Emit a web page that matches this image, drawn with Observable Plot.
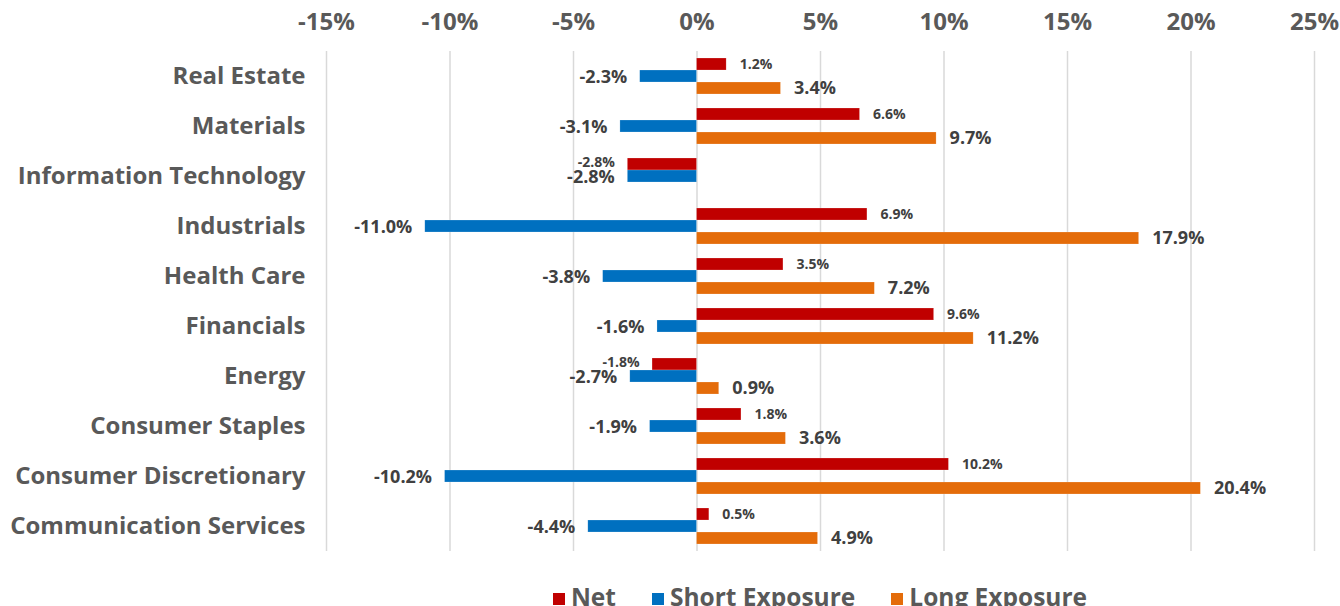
<!DOCTYPE html>
<html><head><meta charset="utf-8">
<script src="https://cdn.jsdelivr.net/npm/d3@7"></script>
<script src="https://cdn.jsdelivr.net/npm/@observablehq/plot@0.6"></script>
<style>
html,body{margin:0;padding:0;background:#fff;font-family:"Open Sans",sans-serif;overflow:hidden;}
#legend{display:flex;justify-content:center;align-items:baseline;gap:36px;margin-left:326px;width:988px;margin-top:22px;font-size:24.5px;font-weight:700;color:#595959;line-height:30px;}
#legend .item{display:flex;align-items:center;}
#legend .sw{width:12px;height:12px;margin-right:6px;margin-top:3px;}
</style></head><body>
<div id="chart"></div>
<div id="legend"></div>
<script>
const categories = ["Real Estate","Materials","Information Technology","Industrials","Health Care","Financials","Energy","Consumer Staples","Consumer Discretionary","Communication Services"];
const seriesNames = ["Net","Short Exposure","Long Exposure"];
const netValues   = [1.2, 6.6, -2.8, 6.9, 3.5, 9.6, -1.8, 1.8, 10.2, 0.5];
const shortValues = [-2.3, -3.1, -2.8, -11.0, -3.8, -1.6, -2.7, -1.9, -10.2, -4.4];
const longValues  = [3.4, 9.7, null, 17.9, 7.2, 11.2, 0.9, 3.6, 20.4, 4.9];
const xTicks = [-15, -10, -5, 0, 5, 10, 15, 20, 25];
const seriesColors = ["#C00000", "#0070C0", "#E46C0A"];
const labelSizes = [14, 18, 18];
const labelShift = [-1, 1, 0];

const seriesValues = [netValues, shortValues, longValues];
const rows = [];
categories.forEach((c, i) => {
  seriesNames.forEach((s, j) => {
    const v = seriesValues[j][i];
    if (v != null) rows.push({category: c, series: s, value: v, size: labelSizes[j], shift: labelShift[j]});
  });
});
const fmt = d => d.toFixed(1) + "%";

const chart = Plot.plot({
  width: 1340, height: 560,
  marginLeft: 326, marginRight: 26, marginTop: 49, marginBottom: 8,
  style: {fontFamily: "'Open Sans', sans-serif", background: "#fff"},
  x: {domain: [-15, 25], axis: null},
  y: {domain: seriesNames, paddingInner: 0, paddingOuter: 0.5, axis: null},
  fy: {domain: categories, padding: 0, axis: null},
  color: {domain: seriesNames, range: seriesColors},
  marks: [
    Plot.gridX(xTicks, {stroke: "#d9d9d9", strokeOpacity: 1, strokeWidth: 1.5}),
    Plot.axisX({ticks: xTicks, anchor: "top", label: null, tickSize: 0, tickPadding: 22, tickFormat: d => d + "%", fontSize: 24, fontWeight: 700, fill: "#595959"}),
    Plot.axisFy({anchor: "left", label: null, tickSize: 0, tickPadding: 21, fontSize: 24, fontWeight: 700, fill: "#595959"}),
    Plot.barX(rows, {x: "value", y: "series", fy: "category", fill: "series", stroke: "#fff", strokeOpacity: 0.4, strokeWidth: 0.5}),
    Plot.text(rows.filter(d => d.value >= 0), {x: "value", y: "series", fy: "category", text: d => fmt(d.value), fontSize: "size", fontWeight: 700, fill: "#404040", textAnchor: "start", dx: 13}),
    Plot.text(rows.filter(d => d.value < 0 && d.shift < 0), {x: "value", y: "series", fy: "category", text: d => fmt(d.value), fontSize: "size", fontWeight: 700, fill: "#404040", textAnchor: "end", dx: -13, dy: -1.5}),
    Plot.text(rows.filter(d => d.value < 0 && d.shift >= 0), {x: "value", y: "series", fy: "category", text: d => fmt(d.value), fontSize: "size", fontWeight: 700, fill: "#404040", textAnchor: "end", dx: -13, dy: 1})
  ]
});
document.getElementById("chart").appendChild(chart);

const legend = document.getElementById("legend");
seriesNames.forEach((s, j) => {
  const it = document.createElement("div");
  it.className = "item";
  const sw = document.createElement("span");
  sw.className = "sw";
  sw.style.background = seriesColors[j];
  const t = document.createElement("span");
  t.textContent = s;
  it.appendChild(sw); it.appendChild(t);
  legend.appendChild(it);
});
</script>
</body></html>
